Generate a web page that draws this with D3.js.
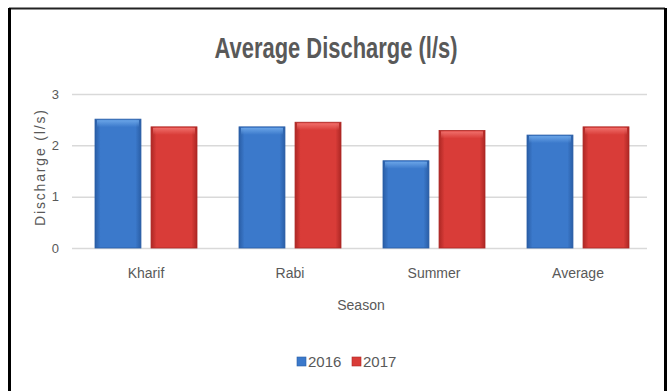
<!DOCTYPE html>
<meta charset="utf-8">
<title>Average Discharge (l/s)</title>
<style>
body { margin: 0; background: #fff; }
svg { display: block; }
text { font-family: "Liberation Sans Narrow", "Liberation Sans", sans-serif; fill: #595959; }
.grid line { stroke: #d9d9d9; stroke-width: 1.5px; }
.grid path { display: none; }
.grid text { font-size: 13px; }
.xlab { font-size: 14px; text-anchor: middle; }
.title { font-size: 29px; font-weight: bold; text-anchor: middle; }
</style>
<svg id="chart" width="667" height="391"></svg>
<script src="https://cdn.jsdelivr.net/npm/d3@7"></script>
<script>
// values
const seasons = ["Kharif", "Rabi", "Summer", "Average"];
const years = ["2016", "2017"];
const v2016 = [2.51, 2.36, 1.70, 2.20];
const v2017 = [2.36, 2.45, 2.29, 2.36];
const yTicks = [0, 1, 2, 3];

const data = seasons.map((s, i) => ({ season: s, values: [
  { year: "2016", value: v2016[i] },
  { year: "2017", value: v2017[i] }
]}));

const colors = {
  "2016": { base: "#3b79cb", dark: "#2a5ea6", light: "#6fa9ea" },
  "2017": { base: "#d93c38", dark: "#ad2724", light: "#f27470" }
};

let svg = d3.select("#chart");

// frame
svg.append("rect").attr("x", 0).attr("y", 0).attr("width", 667).attr("height", 391).attr("fill", "#fff");
svg.append("line").attr("x1", 9).attr("x2", 665).attr("y1", 8.5).attr("y2", 8.5)
  .attr("stroke", "#222").attr("stroke-width", 2);
svg.append("line").attr("x1", 9.5).attr("x2", 9.5).attr("y1", 8).attr("y2", 391)
  .attr("stroke", "#000").attr("stroke-width", 3);
svg.append("line").attr("x1", 665.5).attr("x2", 665.5).attr("y1", 8).attr("y2", 391)
  .attr("stroke", "#000").attr("stroke-width", 3);

// gradients for the bevelled bars
let defs = svg.append("defs");
years.forEach(yr => {
  let g = defs.append("linearGradient").attr("id", "g" + yr)
    .attr("x1", "0%").attr("x2", "100%").attr("y1", "0%").attr("y2", "0%");
  g.append("stop").attr("offset", "0%").attr("stop-color", colors[yr].dark);
  g.append("stop").attr("offset", "12%").attr("stop-color", colors[yr].base);
  g.append("stop").attr("offset", "88%").attr("stop-color", colors[yr].base);
  g.append("stop").attr("offset", "100%").attr("stop-color", colors[yr].dark);
  let c = defs.append("linearGradient").attr("id", "c" + yr)
    .attr("x1", "0%").attr("x2", "0%").attr("y1", "0%").attr("y2", "100%");
  c.append("stop").attr("offset", "0%").attr("stop-color", colors[yr].light).attr("stop-opacity", 0.9);
  c.append("stop").attr("offset", "100%").attr("stop-color", colors[yr].light).attr("stop-opacity", 0);
});

let x0 = d3.scaleBand().domain(seasons).range([74, 650]);
let x1 = d3.scaleBand().domain(years).range([21, 123]).paddingInner(0.18);
let y = d3.scaleLinear().domain([0, 3]).range([248, 94]);

// gridlines + y ticks
svg.append("g")
  .attr("class", "grid")
  .attr("transform", "translate(72,0)")
  .call(d3.axisLeft(y).tickValues(yTicks).tickSize(-575).tickPadding(13).tickFormat(d3.format("d")));

// bars
let group = svg.selectAll(".season")
  .data(data)
  .enter().append("g")
    .attr("class", "season")
    .attr("transform", d => "translate(" + x0(d.season) + ",0)");

group.selectAll("rect.bar")
  .data(d => d.values)
  .enter().append("rect")
    .attr("class", "bar")
    .attr("x", d => x1(d.year))
    .attr("y", d => y(d.value))
    .attr("width", x1.bandwidth())
    .attr("height", d => y(0) - y(d.value))
    .attr("fill", d => "url(#g" + d.year + ")")
    .attr("stroke", d => colors[d.year].dark)
    .attr("stroke-width", 0.8);

// lighter top bevel
group.selectAll("rect.cap")
  .data(d => d.values)
  .enter().append("rect")
    .attr("class", "cap")
    .attr("x", d => x1(d.year) + 2)
    .attr("y", d => y(d.value) + 1)
    .attr("width", x1.bandwidth() - 4)
    .attr("height", 7)
    .attr("fill", d => "url(#c" + d.year + ")");

// x labels
svg.selectAll(".xlab.cat")
  .data(seasons)
  .enter().append("text")
    .attr("class", "xlab cat")
    .attr("x", d => x0(d) + x0.bandwidth() / 2)
    .attr("y", 278)
    .text(d => d);

svg.append("text")
  .attr("class", "xlab")
  .attr("x", 361)
  .attr("y", 310)
  .text("Season");

svg.append("text")
  .attr("class", "xlab")
  .attr("transform", "translate(45,168) rotate(-90)")
  .attr("textLength", 116)
  .attr("lengthAdjust", "spacing")
  .text("Discharge (l/s)");

// title
svg.append("text")
  .attr("class", "title")
  .attr("x", 336)
  .attr("y", 58)
  .attr("textLength", 243)
  .attr("lengthAdjust", "spacingAndGlyphs")
  .text("Average Discharge (l/s)");

// legend
let legX = [297, 352];
let leg = svg.selectAll(".legend")
  .data(years)
  .enter().append("g")
    .attr("class", "legend")
    .attr("transform", (d, i) => "translate(" + legX[i] + ",357)");
leg.append("rect")
  .attr("width", 9).attr("height", 9)
  .attr("fill", d => colors[d].base)
  .attr("stroke", d => colors[d].dark).attr("stroke-width", 0.6);
leg.append("text")
  .attr("x", 11)
  .attr("y", 10)
  .style("font-size", "15px")
  .text(d => d);
</script>
